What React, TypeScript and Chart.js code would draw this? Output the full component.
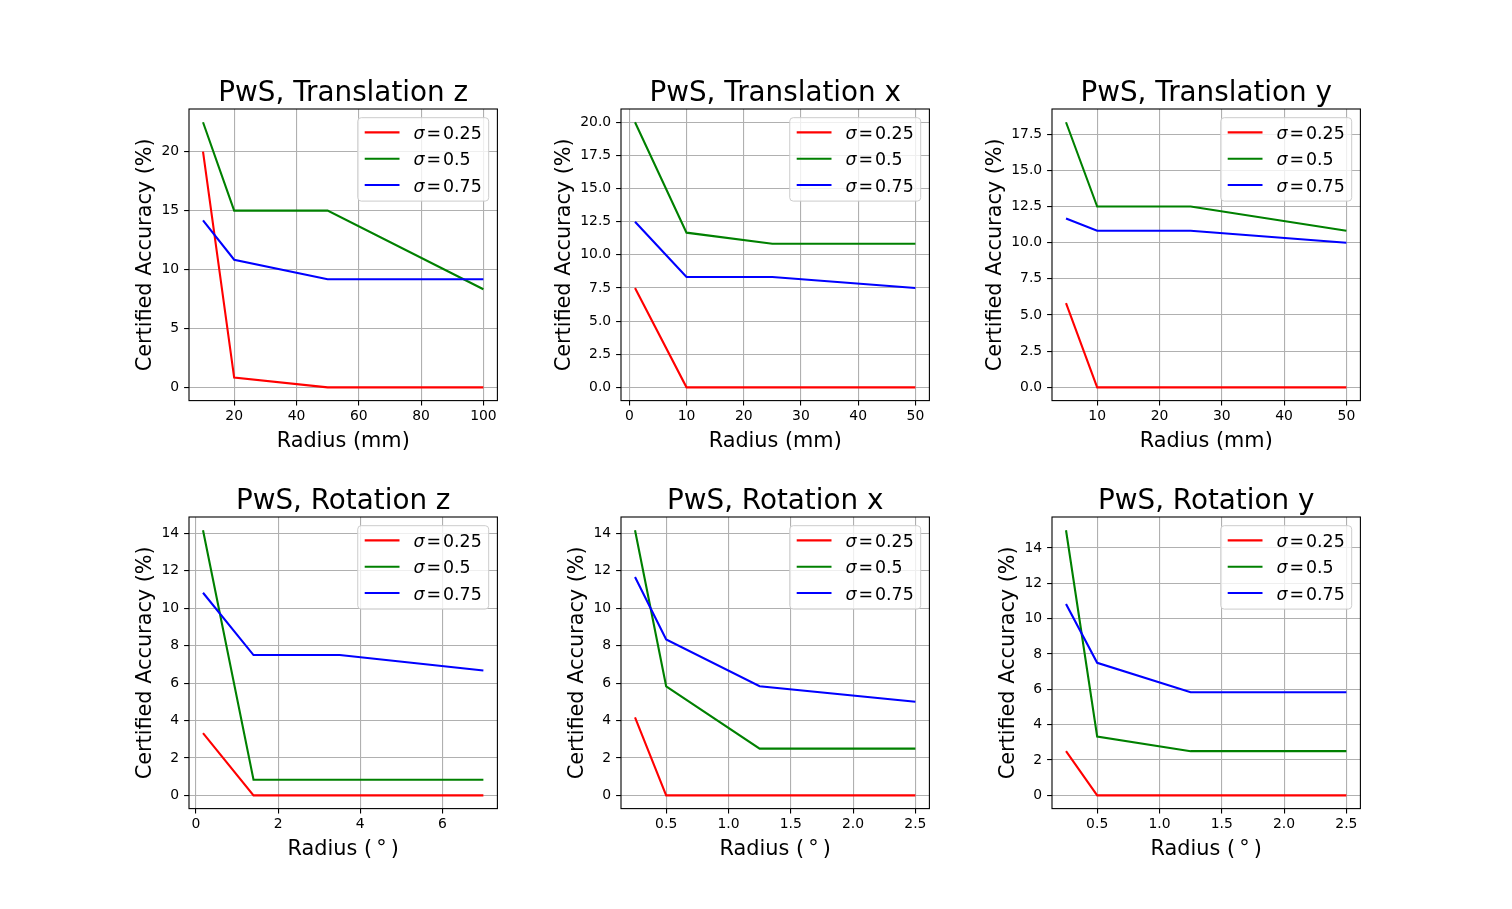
import React, { useRef, useEffect } from "react";
import { Chart, registerables } from "chart.js";

Chart.register(...registerables);

const FONT = "'DejaVu Sans', 'Liberation Sans', sans-serif";

const sigmaLabels = ["0.25", "0.5", "0.75"];
const lineColors = ["#ff0000", "#008000", "#0000ff"];

// Translation z
const tzRadius = [10, 20, 50, 100];
const tzSigma025 = [20, 0.83, 0, 0];
const tzSigma05 = [22.5, 15, 15, 8.33];
const tzSigma075 = [14.17, 10.83, 9.17, 9.17];
const tzXTicks = [20, 40, 60, 80, 100];
const tzYTicks = [0, 5, 10, 15, 20];

// Translation x
const txRadius = [1, 10, 25, 50];
const txSigma025 = [7.5, 0, 0, 0];
const txSigma05 = [20, 11.67, 10.83, 10.83];
const txSigma075 = [12.5, 8.33, 8.33, 7.5];
const txXTicks = [0, 10, 20, 30, 40, 50];
const txYTicks = [0, 2.5, 5, 7.5, 10, 12.5, 15, 17.5, 20];

// Translation y
const tyRadius = [5, 10, 25, 50];
const tySigma025 = [5.83, 0, 0, 0];
const tySigma05 = [18.33, 12.5, 12.5, 10.83];
const tySigma075 = [11.67, 10.83, 10.83, 10];
const tyXTicks = [10, 20, 30, 40, 50];
const tyYTicks = [0, 2.5, 5, 7.5, 10, 12.5, 15, 17.5];

// Rotation z
const rzRadius = [0.17, 1.4, 3.5, 7];
const rzSigma025 = [3.33, 0, 0, 0];
const rzSigma05 = [14.17, 0.83, 0.83, 0.83];
const rzSigma075 = [10.83, 7.5, 7.5, 6.67];
const rzXTicks = [0, 2, 4, 6];
const rzYTicks = [0, 2, 4, 6, 8, 10, 12, 14];

// Rotation x
const rxRadius = [0.25, 0.5, 1.25, 2.5];
const rxSigma025 = [4.17, 0, 0, 0];
const rxSigma05 = [14.17, 5.83, 2.5, 2.5];
const rxSigma075 = [11.67, 8.33, 5.83, 5];
const rxXTicks = [0.5, 1.0, 1.5, 2.0, 2.5];
const rxYTicks = [0, 2, 4, 6, 8, 10, 12, 14];

// Rotation y
const ryRadius = [0.25, 0.5, 1.25, 2.5];
const rySigma025 = [2.5, 0, 0, 0];
const rySigma05 = [15, 3.33, 2.5, 2.5];
const rySigma075 = [10.83, 7.5, 5.83, 5.83];
const ryXTicks = [0.5, 1.0, 1.5, 2.0, 2.5];
const ryYTicks = [0, 2, 4, 6, 8, 10, 12, 14];

type Panel = {
  title: string;
  xTitle: string;
  radius: number[];
  series: number[][];
  xTicks: number[];
  xDec: number;
  yTicks: number[];
  yDec: number;
};

const panels: Panel[] = [
  { title: "PwS, Translation z", xTitle: "Radius (mm)", radius: tzRadius, series: [tzSigma025, tzSigma05, tzSigma075], xTicks: tzXTicks, xDec: 0, yTicks: tzYTicks, yDec: 0 },
  { title: "PwS, Translation x", xTitle: "Radius (mm)", radius: txRadius, series: [txSigma025, txSigma05, txSigma075], xTicks: txXTicks, xDec: 0, yTicks: txYTicks, yDec: 1 },
  { title: "PwS, Translation y", xTitle: "Radius (mm)", radius: tyRadius, series: [tySigma025, tySigma05, tySigma075], xTicks: tyXTicks, xDec: 0, yTicks: tyYTicks, yDec: 1 },
  { title: "PwS, Rotation z", xTitle: "Radius (\u2009\u00b0\u2009)", radius: rzRadius, series: [rzSigma025, rzSigma05, rzSigma075], xTicks: rzXTicks, xDec: 0, yTicks: rzYTicks, yDec: 0 },
  { title: "PwS, Rotation x", xTitle: "Radius (\u2009\u00b0\u2009)", radius: rxRadius, series: [rxSigma025, rxSigma05, rxSigma075], xTicks: rxXTicks, xDec: 1, yTicks: rxYTicks, yDec: 0 },
  { title: "PwS, Rotation y", xTitle: "Radius (\u2009\u00b0\u2009)", radius: ryRadius, series: [rySigma025, rySigma05, rySigma075], xTicks: ryXTicks, xDec: 1, yTicks: ryYTicks, yDec: 0 },
];

// figure layout (matplotlib subplot grid, 2x3)
const AXES_LEFT = [189, 620.7, 1052.4];
const AXES_TOP = [109.1, 517.3];
const AXES_W = 308.4;
const AXES_H = 291.6;
const CANVAS_W = 460;
const CANVAS_H = 430;
const OFF_L = 110;
const OFF_T = 60;
const X_AXIS_H = 70;

const TICK = 4.9;

// autoscale with 5% margins like matplotlib
const limits = (vals: number[]) => {
  const lo = Math.min(...vals);
  const hi = Math.max(...vals);
  const m = (hi - lo) * 0.05;
  return [lo - m, hi + m];
};

function drawLegend(ctx: CanvasRenderingContext2D, a: any) {
  const fs = 17.4;
  const normal = `${fs}px ${FONT}`;
  const italic = `italic ${fs}px ${FONT}`;
  ctx.font = italic;
  const wSig = ctx.measureText("σ").width;
  ctx.font = normal;
  const wEq = ctx.measureText("=").width;
  const gap = 2;
  const textW = Math.max(...sigmaLabels.map((s) => wSig + wEq + 2 * gap + ctx.measureText(s).width));
  const pad = 0.4 * fs;
  const handle = 2 * fs;
  const hpad = 0.8 * fs;
  const boxW = pad * 2 + handle + hpad + textW;
  const boxH = 83.4;
  const bx = a.right - 0.5 * fs - boxW;
  const by = a.top + 0.5 * fs;

  ctx.beginPath();
  ctx.roundRect(bx, by, boxW, boxH, 0.2 * fs);
  ctx.fillStyle = "rgba(255,255,255,0.8)";
  ctx.fill();
  ctx.strokeStyle = "#cccccc";
  ctx.lineWidth = 1;
  ctx.stroke();

  sigmaLabels.forEach((s, k) => {
    const cy = by + 14.7 + k * 26.3;
    ctx.strokeStyle = lineColors[k];
    ctx.lineWidth = 2.1;
    ctx.beginPath();
    ctx.moveTo(bx + pad, cy);
    ctx.lineTo(bx + pad + handle, cy);
    ctx.stroke();

    let tx = bx + pad + handle + hpad;
    const ty = cy + 6.6;
    ctx.fillStyle = "#000";
    ctx.textAlign = "left";
    ctx.textBaseline = "alphabetic";
    ctx.font = italic;
    ctx.fillText("σ", tx, ty);
    tx += wSig + gap;
    ctx.font = normal;
    ctx.fillText("=", tx, ty);
    tx += wEq + gap;
    ctx.fillText(s, tx, ty);
  });
}

const decorPlugin = (p: Panel) => ({
  id: "decor",
  afterDraw(chart: Chart) {
    const { ctx, chartArea: a } = chart;
    ctx.save();
    // spines
    ctx.strokeStyle = "#000";
    ctx.lineWidth = 1.1;
    ctx.strokeRect(a.left, a.top, a.right - a.left, a.bottom - a.top);

    // subplot title
    ctx.fillStyle = "#000";
    ctx.font = `27.8px ${FONT}`;
    ctx.textAlign = "center";
    ctx.textBaseline = "alphabetic";
    ctx.fillText(p.title, (a.left + a.right) / 2, a.top - 8.3);

    drawLegend(ctx, a);

    // y axis label, placed beside the widest tick label
    ctx.font = `13.9px ${FONT}`;
    const tickW = Math.max(...p.yTicks.map((v) => ctx.measureText(v.toFixed(p.yDec)).width));
    ctx.font = `20.8px ${FONT}`;
    ctx.fillStyle = "#000";
    ctx.textAlign = "center";
    ctx.textBaseline = "alphabetic";
    const lx = a.left - TICK - TICK - tickW - 5.6 - 4.9;
    ctx.translate(lx, (a.top + a.bottom) / 2);
    ctx.rotate(-Math.PI / 2);
    ctx.fillText("Certified Accuracy (%)", 0, 0);
    ctx.restore();
  },
});

function SubPlot({ p, left, top }: { p: Panel; left: number; top: number }) {
  const canvasRef = useRef<HTMLCanvasElement>(null);

  useEffect(() => {
    if (!canvasRef.current) return;
    const [xMin, xMax] = limits(p.radius);
    const [yMin, yMax] = limits(p.series.flat());
    const tickFont = { family: FONT, size: 13.9 };
    const grid = {
      color: "#b0b0b0",
      lineWidth: 1.1,
      tickColor: "#000",
      tickLength: TICK,
      tickWidth: 1.1,
    };

    const chart = new Chart(canvasRef.current, {
      type: "line",
      data: {
        datasets: p.series.map((s, k) => ({
          label: sigmaLabels[k],
          data: p.radius.map((x, i) => ({ x, y: s[i] })),
          borderColor: lineColors[k],
          backgroundColor: lineColors[k],
          borderWidth: 2.1,
          pointRadius: 0,
          tension: 0,
          fill: false,
          order: 3 - k,
        })),
      },
      options: {
        animation: false,
        responsive: false,
        layout: {
          padding: {
            left: 0,
            top: OFF_T,
            right: CANVAS_W - OFF_L - AXES_W,
            bottom: CANVAS_H - OFF_T - AXES_H - X_AXIS_H,
          },
        },
        plugins: {
          legend: { display: false },
          tooltip: { enabled: false },
        },
        scales: {
          x: {
            type: "linear",
            min: xMin,
            max: xMax,
            bounds: "data",
            afterBuildTicks: (scale: any) => {
              scale.ticks = p.xTicks.map((v) => ({ value: v }));
            },
            afterFit: (scale: any) => {
              scale.height = X_AXIS_H;
              scale.paddingLeft = 0;
              scale.paddingRight = 0;
            },
            ticks: {
              autoSkip: false,
              maxRotation: 0,
              padding: 3,
              color: "#000",
              font: tickFont,
              callback: (v: any) => Number(v).toFixed(p.xDec),
            },
            grid,
            border: { display: false },
            title: {
              display: true,
              text: p.xTitle,
              color: "#000",
              font: { family: FONT, size: 20.8 },
              padding: { top: 0, bottom: 17 },
            },
          },
          y: {
            type: "linear",
            min: yMin,
            max: yMax,
            bounds: "data",
            afterBuildTicks: (scale: any) => {
              scale.ticks = p.yTicks.map((v) => ({ value: v }));
            },
            afterFit: (scale: any) => {
              scale.width = OFF_L;
              scale.paddingTop = 0;
              scale.paddingBottom = 0;
            },
            ticks: {
              autoSkip: false,
              padding: TICK,
              color: "#000",
              font: tickFont,
              callback: (v: any) => Number(v).toFixed(p.yDec),
            },
            grid,
            border: { display: false },
          },
        },
      },
      plugins: [decorPlugin(p)],
    });

    return () => {
      chart.destroy();
    };
  }, [p]);

  return (
    <canvas
      ref={canvasRef}
      width={CANVAS_W}
      height={CANVAS_H}
      style={{
        position: "absolute",
        left: left - OFF_L,
        top: top - OFF_T,
        width: CANVAS_W,
        height: CANVAS_H,
      }}
    />
  );
}

export default function App() {
  return (
    <div
      style={{
        position: "fixed",
        left: 0,
        top: 0,
        width: 1512,
        height: 909,
        background: "#fff",
      }}
    >
      {panels.map((p, i) => (
        <SubPlot key={i} p={p} left={AXES_LEFT[i % 3]} top={AXES_TOP[Math.floor(i / 3)]} />
      ))}
    </div>
  );
}
